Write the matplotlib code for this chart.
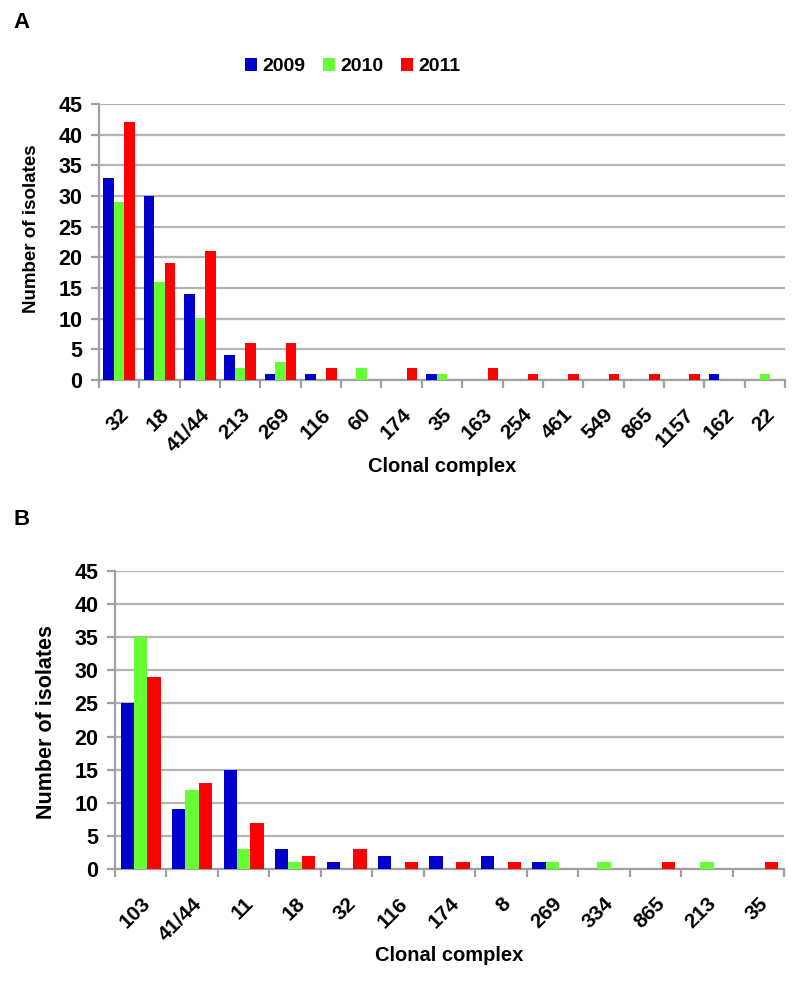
import matplotlib.pyplot as plt
import numpy as np

plt.rcParams['font.family'] = ['Liberation Sans', 'DejaVu Sans']
plt.rcParams['font.weight'] = 'bold'

years = ['2009', '2010', '2011']
colors = ['#0000cc', '#66ff33', '#ff0000']

# panel A
cc_a = ['32', '18', '41/44', '213', '269', '116', '60', '174', '35', '163',
        '254', '461', '549', '865', '1157', '162', '22']
a_2009 = [33, 30, 14, 4, 1, 1, 0, 0, 1, 0, 0, 0, 0, 0, 0, 1, 0]
a_2010 = [29, 16, 10, 2, 3, 0, 2, 0, 1, 0, 0, 0, 0, 0, 0, 0, 1]
a_2011 = [42, 19, 21, 6, 6, 2, 0, 2, 0, 2, 1, 1, 1, 1, 1, 0, 0]

# panel B
cc_b = ['103', '41/44', '11', '18', '32', '116', '174', '8', '269', '334',
        '865', '213', '35']
b_2009 = [25, 9, 15, 3, 1, 2, 2, 2, 1, 0, 0, 0, 0]
b_2010 = [35, 12, 3, 1, 0, 0, 0, 0, 1, 1, 0, 1, 0]
b_2011 = [29, 13, 7, 2, 3, 1, 1, 1, 0, 0, 1, 0, 1]


def draw_panel(ax, cats, series, ylab_xy, ylab_size):
    x = np.arange(len(cats))
    w = 0.26
    for i, vals in enumerate(series):
        ax.bar(x + (i - 1) * w, vals, w, color=colors[i], label=years[i],
               zorder=3)
    ax.set_xlim(-0.5, len(cats) - 0.5)
    ax.set_ylim(0, 45)
    ax.set_yticks(range(0, 46, 5))
    ax.yaxis.grid(True, color='#b4b4b4', lw=1.6, zorder=0)
    ax.set_axisbelow(True)
    for s in ['top', 'right']:
        ax.spines[s].set_visible(False)
    for s in ['left', 'bottom']:
        ax.spines[s].set_color('#a0a0a0')
        ax.spines[s].set_linewidth(1.6)
    ax.set_xticks(x)
    ax.set_xticklabels(cats, rotation=45, ha='right', va='top',
                       rotation_mode='anchor', fontsize=15, fontweight='bold')
    ax.set_xticks(np.arange(len(cats) + 1) - 0.5, minor=True)
    ax.tick_params(axis='x', which='major', length=0, pad=18)
    ax.tick_params(axis='x', which='minor', length=6, width=1.6,
                   color='#a0a0a0')
    ax.tick_params(axis='y', length=6, width=1.6, color='#a0a0a0',
                   labelsize=15.5, pad=6)
    for lab in ax.get_yticklabels():
        lab.set_fontweight('bold')
    ax.set_ylabel('Number of isolates', fontsize=ylab_size, fontweight='bold')
    ax.yaxis.set_label_coords(*ylab_xy)
    ax.set_xlabel('Clonal complex', fontsize=14.5, fontweight='bold',
                  labelpad=1)


fig = plt.figure(figsize=(7.93, 9.86), dpi=100)
ax1 = fig.add_axes([0.1248, 0.6146, 0.8652, 0.2799])
ax2 = fig.add_axes([0.1450, 0.1187, 0.8437, 0.3022])

draw_panel(ax1, cc_a, [a_2009, a_2010, a_2011], (-0.086, 0.55), 13.5)
draw_panel(ax2, cc_b, [b_2009, b_2010, b_2011], (-0.087, 0.493), 15.5)

ax1.legend(loc='lower center', bbox_to_anchor=(0.37, 1.04), ncol=3,
           frameon=False, handlelength=0.6, handleheight=0.6,
           handletextpad=0.3, columnspacing=0.9,
           prop={'weight': 'bold', 'size': 14})

fig.text(0.017, 0.972, 'A', fontsize=16, fontweight='bold')
fig.text(0.017, 0.468, 'B', fontsize=16, fontweight='bold')

fig.savefig('out.png', dpi=100)
